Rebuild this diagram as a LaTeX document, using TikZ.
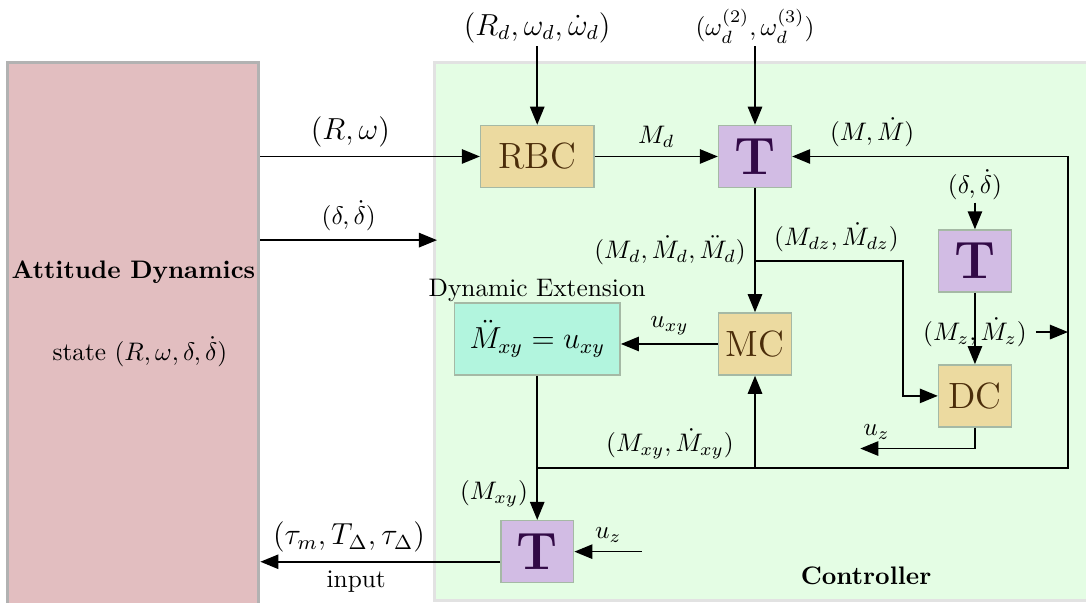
\documentclass[tikz,border=0pt]{standalone}
\usetikzlibrary{arrows.meta}
\definecolor{dynpink}{RGB}{226,190,192}
\definecolor{dynedge}{RGB}{178,178,178}
\definecolor{ctlgreen}{RGB}{228,253,228}
\definecolor{ctledge}{RGB}{226,226,226}
\definecolor{ctltan}{RGB}{236,218,160}
\definecolor{ctltext}{RGB}{75,45,10}
\definecolor{tlilac}{RGB}{210,188,228}
\definecolor{ttext}{RGB}{50,10,70}
\definecolor{extteal}{RGB}{178,245,222}
\definecolor{blkedge}{RGB}{165,185,165}
\begin{document}
\begin{tikzpicture}[
    blk/.style={draw=blkedge, line width=0.6pt},
    ctl/.style={blk, fill=ctltan, text=ctltext, inner sep=2pt, minimum height=0.86cm, font=\Large},
    tbox/.style={blk, fill=tlilac, text=ttext, inner sep=1pt, minimum width=1.01cm, minimum height=0.86cm, font=\huge\bfseries},
    arr/.style={-{Triangle[length=2.5mm, width=2mm]}, line width=0.6pt}]
  \useasboundingbox (0,0) rectangle (15.06,8.36);
  \clip (0,0) rectangle (15.06,8.36);
  % Plant and controller areas
  \node[draw=dynedge, line width=1.2pt, fill=dynpink, minimum width=3.48cm, minimum height=7.79cm] (dyn) at (1.85,3.595) {};
  \node[draw=ctledge, line width=1.2pt, fill=ctlgreen, minimum width=9.4cm, minimum height=7.46cm] (ctrl) at (10.72,3.76) {};
  \node[font=\bfseries] (dynname) at (1.85,4.58) {Attitude Dynamics};
  \node (state) at (1.94,3.48) {state $(R,\omega,\delta,\dot{\delta})$};
  \node[font=\bfseries] (ctrlname) at (12.01,0.37) {Controller};
  % Blocks
  \node[ctl, minimum width=1.57cm] (rbc) at (7.45,6.19) {RBC};
  \node[tbox] (t1) at (10.47,6.19) {T};
  \node[tbox] (t2) at (13.52,4.74) {T};
  \node[ctl, minimum width=1.01cm] (dc) at (13.52,2.87) {DC};
  \node[ctl, minimum width=1.01cm] (mc) at (10.47,3.59) {MC};
  \node[blk, fill=extteal, minimum width=2.3cm, minimum height=1.0cm, font=\large] (ext) at (7.45,3.66) {$\ddot{M}_{xy}=u_{xy}$};
  \node[above, inner sep=0pt] (extname) at (ext.north) {Dynamic Extension};
  \node[tbox] (t3) at (7.45,0.71) {T};
  % Desired trajectory
  \node[font=\large, inner sep=1pt] (rd) at (7.45,7.975) {$(R_d,\omega_d,\dot{\omega}_d)$};
  \node[inner sep=1pt] (wd) at (10.47,8.0) {$(\omega_d^{(2)},\omega_d^{(3)})$};
  \node[inner sep=1pt] (dd) at (13.52,5.80) {$(\delta,\dot{\delta})$};
  \draw[arr] (rd) -- (rbc);
  \draw[arr] (wd) -- (t1);
  \draw[arr] (dd) -- (t2);
  % Signals from the plant
  \draw[arr] (dyn.east |- rbc) -- node[above, pos=0.41, font=\large] {$(R,\omega)$} (rbc);
  \coordinate (din) at (6.06,5.03);
  \draw[arr] (din -| dyn.east) -- node[above] {$(\delta,\dot{\delta})$} (din);
  % Moments
  \draw[arr] (rbc) -- node[above] {$M_d$} (t1);
  \draw[arr] (t1) -- node[left] {$(M_d,\dot{M}_d,\ddot{M}_d)$} (mc);
  \coordinate (dzc) at (12.52,0);
  \draw[arr] (t1 |- t2) -- node[above, pos=0.55] {$(M_{dz},\dot{M}_{dz})$} (dzc |- t2) |- (dc);
  \draw[arr] (t2) -- node[pos=0.55] (mz) {$(M_z,\dot{M}_z)$} (dc);
  \coordinate (uzc) at (11.93,2.14);
  \draw[arr] (dc) |- node[above, pos=0.93] {$u_z$} (uzc);
  \draw[arr] (mc) -- node[above] {$u_{xy}$} (ext.east |- mc);
  % Feedback loop
  \coordinate (fbl) at (7.45,1.87);
  \coordinate (fbr) at (14.81,1.87);
  \draw[arr] (fbl) -- node[above, pos=0.25] {$(M_{xy},\dot{M}_{xy})$} (fbr) -- (fbr |- t1) -- node[above, pos=0.71] {$(M,\dot{M})$} (t1);
  \draw[arr] (mz.east) -- (mz.east -| fbr);
  \draw[arr] (mc |- fbl) -- (mc);
  \draw[arr] (ext) -- node[left, pos=0.82] {$(M_{xy})$} (t3);
  % Input to the plant
  \coordinate (uzin) at (8.90,0.71);
  \draw[arr] (uzin) -- node[above] {$u_z$} (t3);
  \coordinate (tout) at ([yshift=-1.4mm]t3.west);
  \draw[arr] (tout) -- node[above, pos=0.63, font=\large] {$(\tau_m,T_\Delta,\tau_\Delta)$} node[below, pos=0.6] {input} (tout -| dyn.east);
\end{tikzpicture}
\end{document}
